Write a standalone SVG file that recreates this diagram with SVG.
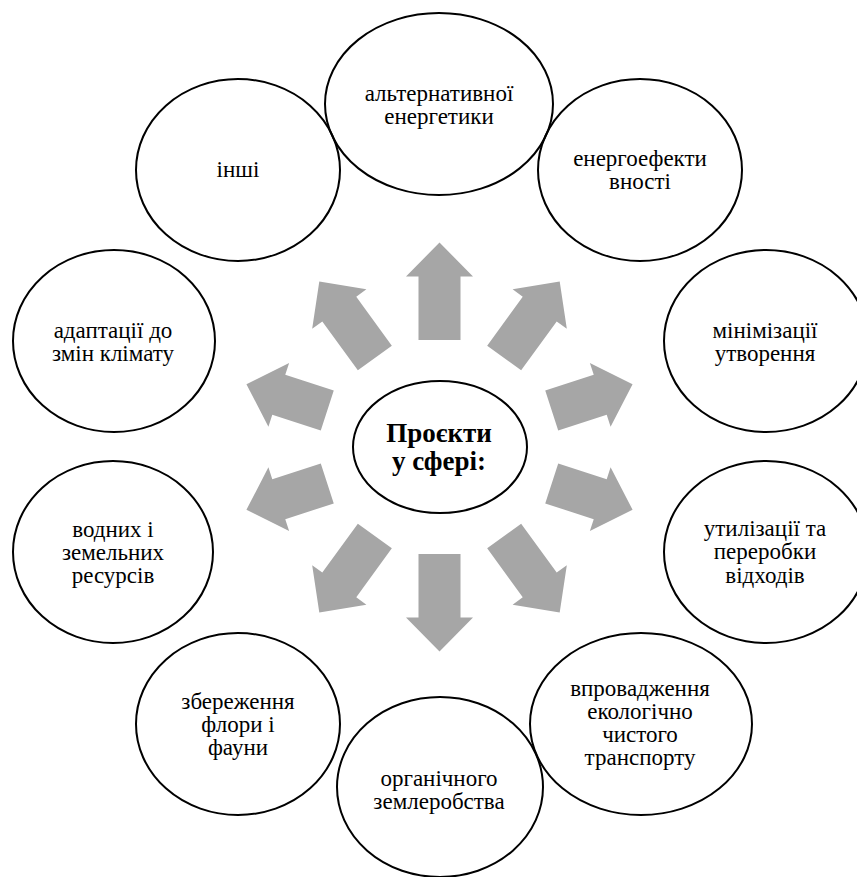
<svg xmlns="http://www.w3.org/2000/svg" xmlns:xlink="http://www.w3.org/1999/xlink" width="857" height="877" viewBox="0 0 857 877">
  <style>
    .node { fill: none; stroke: #000; stroke-width: 2; }
    .label { font-family: "Liberation Serif", "Times New Roman", serif; font-size: 23px; fill: #000; text-anchor: middle; }
    .hub { font-family: "Liberation Serif", "Times New Roman", serif; font-size: 27px; font-weight: bold; fill: #000; text-anchor: middle; }
    .arrow { fill: #A6A6A6; stroke: none; }
  </style>
  <defs>
    <!-- block arrows pointing along +x, starting away from the hub -->
    <polygon id="arrow-v" points="107,-21 170.5,-21 170.5,-33.5 204.5,0 170.5,33.5 170.5,21 107,21"/>
    <polygon id="arrow-d" points="110,-21 170.5,-21 170.5,-33.5 204.5,0 170.5,33.5 170.5,21 110,21"/>
    <polygon id="arrow-h" points="118,-21 169,-21 169,-33.5 203,0 169,33.5 169,21 118,21"/>
  </defs>
  <rect width="857" height="877" fill="#fff"/>

  <g id="connectors" class="arrow">
    <use xlink:href="#arrow-v" transform="translate(439.5 447) rotate(-90)"/>
    <use xlink:href="#arrow-d" transform="translate(439.5 447) rotate(-54)"/>
    <use xlink:href="#arrow-h" transform="translate(439.5 447) rotate(-18)"/>
    <use xlink:href="#arrow-h" transform="translate(439.5 447) rotate(18)"/>
    <use xlink:href="#arrow-d" transform="translate(439.5 447) rotate(54)"/>
    <use xlink:href="#arrow-v" transform="translate(439.5 447) rotate(90)"/>
    <use xlink:href="#arrow-d" transform="translate(439.5 447) rotate(126)"/>
    <use xlink:href="#arrow-h" transform="translate(439.5 447) rotate(162)"/>
    <use xlink:href="#arrow-h" transform="translate(439.5 447) rotate(-162)"/>
    <use xlink:href="#arrow-d" transform="translate(439.5 447) rotate(-126)"/>
  </g>

  <g id="hub">
    <ellipse class="node" cx="440" cy="447" rx="87" ry="66"/>
    <text class="hub" x="439" y="442">Проєкти</text>
    <text class="hub" x="439" y="470">у сфері:</text>
  </g>

  <g id="node-alternative-energy">
    <ellipse class="node" cx="439" cy="104" rx="114" ry="91"/>
    <text class="label" x="439" y="101">альтернативної</text>
    <text class="label" x="439" y="124">енергетики</text>
  </g>

  <g id="node-energy-efficiency">
    <ellipse class="node" cx="640" cy="170" rx="102" ry="91"/>
    <text class="label" x="640" y="166">енергоефекти</text>
    <text class="label" x="640" y="189">вності</text>
  </g>

  <g id="node-waste-minimisation">
    <ellipse class="node" cx="766" cy="341" rx="102" ry="91"/>
    <text class="label" x="765" y="338">мінімізації</text>
    <text class="label" x="765" y="361">утворення</text>
  </g>

  <g id="node-waste-recycling">
    <ellipse class="node" cx="766" cy="552" rx="102" ry="91"/>
    <text class="label" x="765" y="536">утилізації та</text>
    <text class="label" x="765" y="559">переробки</text>
    <text class="label" x="765" y="583">відходів</text>
  </g>

  <g id="node-clean-transport">
    <ellipse class="node" cx="641" cy="724" rx="111" ry="91"/>
    <text class="label" x="640" y="696">впровадження</text>
    <text class="label" x="640" y="719">екологічно</text>
    <text class="label" x="640" y="742">чистого</text>
    <text class="label" x="640" y="765">транспорту</text>
  </g>

  <g id="node-organic-farming">
    <ellipse class="node" cx="440" cy="787" rx="103" ry="90"/>
    <text class="label" x="439" y="786">органічного</text>
    <text class="label" x="439" y="809">землеробства</text>
  </g>

  <g id="node-flora-fauna">
    <ellipse class="node" cx="238" cy="724" rx="102" ry="91"/>
    <text class="label" x="238" y="709">збереження</text>
    <text class="label" x="238" y="732">флори і</text>
    <text class="label" x="238" y="755">фауни</text>
  </g>

  <g id="node-water-land">
    <ellipse class="node" cx="113" cy="552" rx="100" ry="91"/>
    <text class="label" x="113" y="537">водних і</text>
    <text class="label" x="113" y="560">земельних</text>
    <text class="label" x="113" y="583">ресурсів</text>
  </g>

  <g id="node-climate-adaptation">
    <ellipse class="node" cx="114" cy="341" rx="101" ry="91"/>
    <text class="label" x="113" y="338">адаптації до</text>
    <text class="label" x="113" y="361">змін клімату</text>
  </g>

  <g id="node-other">
    <ellipse class="node" cx="238" cy="170" rx="102" ry="91"/>
    <text class="label" x="238" y="177">інші</text>
  </g>
</svg>
